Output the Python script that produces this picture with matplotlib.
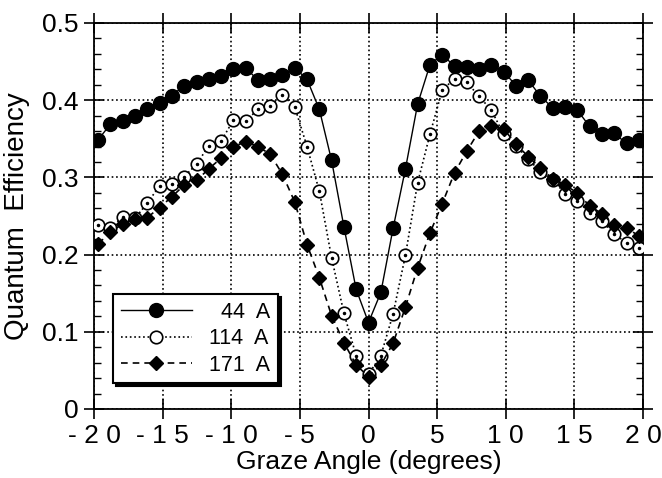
import matplotlib.pyplot as plt
from matplotlib.ticker import MultipleLocator

plt.rcParams['font.family'] = ['Liberation Sans', 'DejaVu Sans']

# graze angle of each sample (degrees)
angle = [-19.69, -18.80, -17.90, -17.01, -16.11, -15.22, -14.32, -13.43, -12.53,
         -11.64, -10.74, -9.85, -8.95, -8.06, -7.16, -6.27, -5.37, -4.48, -3.58,
         -2.69, -1.79, -0.90, 0.0, 0.90, 1.79, 2.69, 3.58, 4.48, 5.37, 6.27, 7.16,
         8.06, 8.95, 9.85, 10.74, 11.64, 12.53, 13.43, 14.32, 15.22, 16.11, 17.01,
         17.90, 18.80, 19.69]

qe_44 = [0.349, 0.369, 0.373, 0.380, 0.389, 0.396, 0.406, 0.419, 0.424, 0.428,
         0.431, 0.440, 0.442, 0.426, 0.427, 0.432, 0.442, 0.427, 0.388, 0.322,
         0.236, 0.155, 0.112, 0.151, 0.234, 0.311, 0.395, 0.446, 0.459, 0.444,
         0.443, 0.440, 0.446, 0.437, 0.419, 0.426, 0.405, 0.390, 0.391, 0.387,
         0.366, 0.356, 0.357, 0.344, 0.348]

qe_114 = [0.238, 0.234, 0.249, 0.247, 0.267, 0.289, 0.292, 0.301, 0.317, 0.341,
          0.347, 0.374, 0.373, 0.388, 0.393, 0.407, 0.391, 0.340, 0.282, 0.196,
          0.124, 0.069, 0.045, 0.069, 0.123, 0.199, 0.293, 0.356, 0.413, 0.428,
          0.423, 0.405, 0.387, 0.356, 0.341, 0.324, 0.307, 0.297, 0.279, 0.270,
          0.254, 0.243, 0.227, 0.215, 0.208]

qe_171 = [0.214, 0.229, 0.240, 0.246, 0.248, 0.261, 0.275, 0.290, 0.296, 0.311,
          0.325, 0.340, 0.346, 0.340, 0.330, 0.304, 0.268, 0.213, 0.170, 0.121,
          0.086, 0.057, 0.042, 0.057, 0.085, 0.132, 0.183, 0.228, 0.266, 0.306,
          0.334, 0.360, 0.366, 0.363, 0.343, 0.327, 0.312, 0.298, 0.290, 0.280,
          0.263, 0.253, 0.238, 0.235, 0.224]

xticks = [-20, -15, -10, -5, 0, 5, 10, 15, 20]
xlabels = ['- 2 0', '- 1 5', '- 1 0', '- 5', '0', '5', '1 0', '1 5', '2 0']
yticks = [0, 0.1, 0.2, 0.3, 0.4, 0.5]
ylabels = ['0', '0.1', '0.2', '0.3', '0.4', '0.5']

fig = plt.figure(figsize=(6.62, 4.78), dpi=100)
ax = fig.add_axes([94/662, 69/478, 549/662, 386/478])

ax.grid(True, which='major', color='k', linestyle=':', linewidth=1.2)

ax.plot(angle, qe_114, color='k', ls=':', lw=1.2, marker='o', ms=9,
        mfc='white', mec='k', mew=1.2, label='114  A', zorder=3)
ax.plot(angle, qe_114, ls='none', marker='o', ms=1.5, color='k', zorder=3)
ax.plot(angle, qe_171, color='k', ls='--', lw=1.2, dashes=(4, 3), marker='D',
        ms=7.5, mfc='k', mec='k', label='171  A', zorder=4)
ax.plot(angle, qe_44, color='k', ls='-', lw=1.0, marker='o', ms=10,
        mfc='k', mec='k', label='  44  A', zorder=5)

ax.set_xlim(-20, 20)
ax.set_ylim(0, 0.5)
ax.set_xticks(xticks)
ax.set_xticklabels(xlabels)
ax.set_yticks(yticks)
ax.set_yticklabels(ylabels)
ax.yaxis.set_minor_locator(MultipleLocator(0.02))

ax.tick_params(which='major', direction='inout', length=14, width=1.2,
               top=True, right=True, labelsize=19, pad=4)
ax.tick_params(axis='y', which='minor', direction='in', length=5, width=1.0,
               left=True, right=True)
for s in ax.spines.values():
    s.set_linewidth(1.3)

ax.set_xlabel('Graze Angle (degrees)', fontsize=19, labelpad=1)
ax.set_ylabel('Quantum  Efficiency', fontsize=20, labelpad=9)

handles, labels = ax.get_legend_handles_labels()
order = [2, 0, 1]
leg = ax.legend([handles[i] for i in order], [labels[i] for i in order],
                loc='lower left', bbox_to_anchor=(0.035, 0.067), borderaxespad=0,
                fontsize=15.5, frameon=True, fancybox=False, framealpha=1,
                edgecolor='k', handlelength=3.3, labelspacing=0.25,
                borderpad=0.35, shadow={'color': 'k', 'alpha': 1})
leg.get_frame().set_linewidth(1.5)

plt.savefig('out.png', dpi=100)
